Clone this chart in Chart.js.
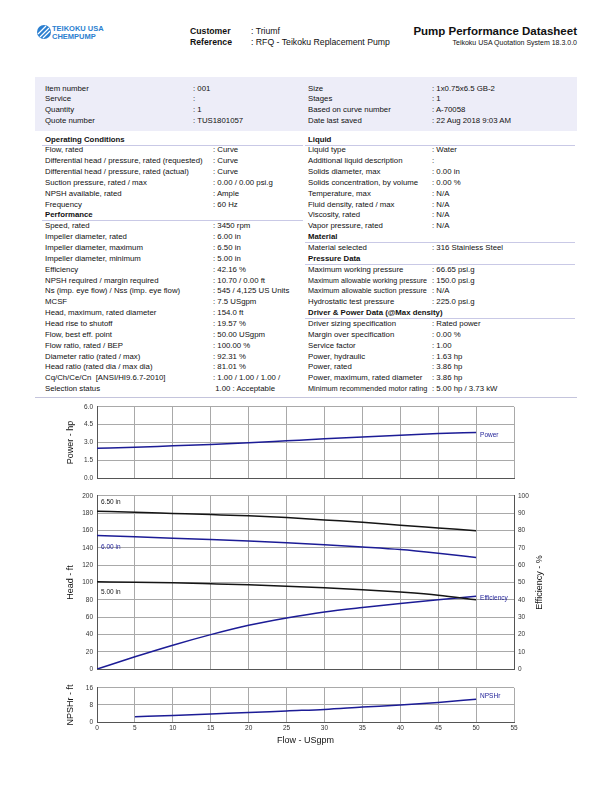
<!DOCTYPE html>
<html>
<head>
<meta charset="utf-8">
<script src="https://cdn.jsdelivr.net/npm/chart.js@4.4.0/dist/chart.umd.min.js"></script>
<style>
  body { margin: 0; background: #fff; font-family: "Liberation Sans", Arial, sans-serif; color: #111; }
  #page { position: relative; width: 612px; height: 792px; overflow: hidden; }
  .t { position: absolute; white-space: pre; font-size: 7.8px; line-height: 11px; height: 11px; transform-origin: left center; }
  .b { font-weight: bold; }
  .ln { position: absolute; height: 1px; background: #c9c9e6; }
  canvas { position: absolute; }
</style>
</head>
<body>
<div id="page">
  <svg style="position:absolute;left:36px;top:24px" width="16" height="16" viewBox="0 0 16 16">
    <circle cx="8" cy="8" r="7" fill="#2b7fd0"/>
    <path d="M2 10 L10 2 M4 13 L13 4 M7 14 L14 7" stroke="#fff" stroke-width="1.2"/>
  </svg>
  <div class="t b" style="left:52px;top:23px;font-size:7.5px;color:#2b7fd0">TEIKOKU USA</div>
  <div class="t b" style="left:52px;top:31px;font-size:7.5px;color:#2b7fd0">CHEMPUMP</div>
  <div class="t b" style="left:190px;top:26px;font-size:8.7px">Customer</div>
  <div class="t" style="left:251px;top:26px;font-size:8.7px">: Triumf</div>
  <div class="t b" style="left:190px;top:37px;font-size:8.7px">Reference</div>
  <div class="t" style="left:251px;top:37px;font-size:8.7px">: RFQ - Teikoku Replacement Pump</div>
  <div class="t b" style="right:35px;top:25px;font-size:11.5px;line-height:13px;height:13px">Pump Performance Datasheet</div>
  <div class="t" style="right:35px;top:37px;font-size:7px">Teikoku USA Quotation System 18.3.0.0</div>
  <div style="position:absolute;left:35px;top:77px;width:542px;height:54px;background:#ededf8"></div>
  <div id="tables"></div>
  <div class="ln" style="left:35px;top:397px;width:542px;background:#c4c4dc"></div>
  <canvas id="powerChart" width="510" height="87" style="left:50px;top:399px"></canvas>
  <canvas id="headChart" width="510" height="189" style="left:50px;top:488px"></canvas>
  <canvas id="npshChart" width="510" height="66" style="left:50px;top:680px"></canvas>
</div>
<script>
// header block
const topLeft = [
  ['Item number', ': 001'], ['Service', ':'], ['Quantity', ': 1'], ['Quote number', ': TUS1801057']
];
const topRight = [
  ['Size', ': 1x0.75x6.5 GB-2'], ['Stages', ': 1'], ['Based on curve number', ': A-70058'], ['Date last saved', ': 22 Aug 2018 9:03 AM']
];
// sections: null value = section header
const leftRows = [
  ['Operating Conditions', null],
  ['Flow, rated', ': Curve'],
  ['Differential head / pressure, rated (requested)', ': Curve'],
  ['Differential head / pressure, rated (actual)', ': Curve'],
  ['Suction pressure, rated / max', ': 0.00 / 0.00 psi.g'],
  ['NPSH available, rated', ': Ample'],
  ['Frequency', ': 60 Hz'],
  ['Performance', null],
  ['Speed, rated', ': 3450 rpm'],
  ['Impeller diameter, rated', ': 6.00 in'],
  ['Impeller diameter, maximum', ': 6.50 in'],
  ['Impeller diameter, minimum', ': 5.00 in'],
  ['Efficiency', ': 42.16 %'],
  ['NPSH required / margin required', ': 10.70 / 0.00 ft'],
  ['Ns (imp. eye flow) / Nss (imp. eye flow)', ': 545 / 4,125 US Units'],
  ['MCSF', ': 7.5 USgpm'],
  ['Head, maximum, rated diameter', ': 154.0 ft'],
  ['Head rise to shutoff', ': 19.57 %'],
  ['Flow, best eff. point', ': 50.00 USgpm'],
  ['Flow ratio, rated / BEP', ': 100.00 %'],
  ['Diameter ratio (rated / max)', ': 92.31 %'],
  ['Head ratio (rated dia / max dia)', ': 81.01 %'],
  ['Cq/Ch/Ce/Cn  [ANSI/HI9.6.7-2010]', ': 1.00 / 1.00 / 1.00 /'],
  ['Selection status', ' 1.00 : Acceptable']
];
const rightRows = [
  ['Liquid', null],
  ['Liquid type', ': Water'],
  ['Additional liquid description', ':'],
  ['Solids diameter, max', ': 0.00 in'],
  ['Solids concentration, by volume', ': 0.00 %'],
  ['Temperature, max', ': N/A'],
  ['Fluid density, rated / max', ': N/A'],
  ['Viscosity, rated', ': N/A'],
  ['Vapor pressure, rated', ': N/A'],
  ['Material', null],
  ['Material selected', ': 316 Stainless Steel'],
  ['Pressure Data', null],
  ['Maximum working pressure', ': 66.65 psi.g'],
  ['Maximum allowable working pressure', ': 150.0 psi.g'],
  ['Maximum allowable suction pressure', ': N/A'],
  ['Hydrostatic test pressure', ': 225.0 psi.g'],
  ['Driver & Power Data (@Max density)', null],
  ['Driver sizing specification', ': Rated power'],
  ['Margin over specification', ': 0.00 %'],
  ['Service factor', ': 1.00'],
  ['Power, hydraulic', ': 1.63 hp'],
  ['Power, rated', ': 3.86 hp'],
  ['Power, maximum, rated diameter', ': 3.86 hp'],
  ['Minimum recommended motor rating', ': 5.00 hp / 3.73 kW']
];

// curve data
const flow = [0, 5, 10, 15, 20, 25, 30, 35, 40, 45, 50];
const power = [2.52, 2.6, 2.72, 2.83, 2.97, 3.14, 3.31, 3.47, 3.62, 3.75, 3.84];
const head650 = [182.4, 181.0, 179.7, 178.4, 177.0, 175.0, 172.2, 169.6, 166.2, 163.0, 159.8];
const head600 = [154.4, 152.8, 151.2, 149.6, 148.0, 146.0, 143.7, 141.0, 138.0, 133.8, 129.0];
const head500 = [100.8, 100.3, 99.6, 98.5, 97.3, 95.8, 93.9, 91.6, 88.9, 85.4, 80.0];
const efficiency = [0, 7.1, 13.8, 19.9, 25.3, 29.5, 33.0, 35.6, 37.9, 40.0, 42.1];
const npshFlow = [5, 10, 15, 20, 25, 30, 35, 40, 45, 50];
const npshr = [2.5, 3.1, 3.8, 4.4, 5.2, 5.9, 7.0, 8.0, 9.2, 10.7];
const flowTicks = [0, 55, 5];

const rowH = 10.85;
const host = document.getElementById('tables');
function addText(txt, x, cy, bold, maxW) {
  const d = document.createElement('div');
  d.className = 't' + (bold ? ' b' : '');
  d.style.left = x + 'px';
  d.style.top = (cy - 5.5) + 'px';
  d.textContent = txt;
  host.appendChild(d);
  // squeeze labels that would run into the value column
  if (maxW && d.offsetWidth > maxW) d.style.transform = 'scaleX(' + (maxW / d.offsetWidth) + ')';
}
function addLine(x, y, w) {
  const d = document.createElement('div');
  d.className = 'ln';
  d.style.left = x + 'px'; d.style.top = y + 'px'; d.style.width = w + 'px';
  host.appendChild(d);
}
topLeft.forEach((r, i) => { addText(r[0], 45, 88 + i * rowH); addText(r[1], 193, 88 + i * rowH); });
topRight.forEach((r, i) => { addText(r[0], 308, 88 + i * rowH); addText(r[1], 432, 88 + i * rowH); });
function section(rows, x, vx, w) {
  rows.forEach((r, i) => {
    const cy = 139 + i * rowH;
    if (r[1] === null) {
      addText(r[0], x, cy, true);
      addLine(x - 3, cy + 5.5, w);
    } else {
      addText(r[0], x, cy, false, vx - x - 5);
      addText(r[1], vx, cy);
    }
  });
}
section(leftRows, 45, 213, 261);
section(rightRows, 308, 432, 270);

// charts
const BLUE = '#1c1c96', BLACK = '#151515', GRID = '#a9a9a9', TICK = '#333';
const tickFont = { family: 'Liberation Sans', size: 6.5 };
const pts = (xs, ys) => xs.map((x, i) => ({ x: x, y: ys[i] }));
const lineDs = (data, color, axis) => ({
  data: data, borderColor: color, borderWidth: 1.5, pointRadius: 0, fill: false,
  cubicInterpolationMode: 'monotone', yAxisID: axis || 'y'
});

function xScale(showLabels) {
  return {
    type: 'linear', min: flowTicks[0], max: flowTicks[1],
    grid: { color: GRID, drawTicks: false },
    border: { color: '#555' },
    ticks: { stepSize: flowTicks[2], display: showLabels, font: tickFont, color: TICK, padding: 2, maxRotation: 0 },
    title: { display: showLabels, text: 'Flow - USgpm', font: { family: 'Liberation Sans', size: 9 }, color: '#111', padding: 0 },
    afterFit: s => { s.height = showLabels ? 24 : 0; }
  };
}
function yScale(min, max, step, pos, fmt) {
  return {
    position: pos, min: min, max: max,
    grid: { color: GRID, drawTicks: false, drawOnChartArea: pos === 'left' },
    border: { color: '#555' },
    ticks: { stepSize: step, font: tickFont, color: TICK, padding: 4, callback: fmt || (v => v) },
    afterFit: s => { s.width = pos === 'left' ? 47 : 46; }
  };
}

// rotated axis titles + curve labels
const labelPlugin = {
  id: 'labels',
  afterDraw(chart) {
    const ctx = chart.ctx, a = chart.chartArea, o = chart.options.plugins.labels;
    ctx.save();
    ctx.font = '9px "Liberation Sans"';
    ctx.fillStyle = '#111';
    ctx.textAlign = 'center';
    ctx.textBaseline = 'middle';
    (o.titles || []).forEach(t => {
      ctx.save();
      ctx.translate(t.side === 'left' ? a.left - 26 : a.right + 26, (a.top + a.bottom) / 2);
      ctx.rotate(-Math.PI / 2);
      ctx.fillText(t.text, 0, 0);
      ctx.restore();
    });
    ctx.font = '6.5px "Liberation Sans"';
    ctx.textAlign = 'left';
    (o.tags || []).forEach(t => {
      const ys = chart.scales[t.axis || 'y'];
      ctx.fillStyle = t.color;
      ctx.fillText(t.text, chart.scales.x.getPixelForValue(t.x) + (t.dx || 0), ys.getPixelForValue(t.y));
    });
    ctx.restore();
  }
};

new Chart(document.getElementById('powerChart'), {
  type: 'line',
  data: { datasets: [lineDs(pts(flow, power), BLUE)] },
  options: {
    responsive: false, animation: false,
    layout: { padding: { top: 5, bottom: 3, right: 46, left: 0 } },
    plugins: { legend: { display: false }, tooltip: { enabled: false },
      labels: { titles: [{ side: 'left', text: 'Power - hp' }],
        tags: [{ text: 'Power', x: 50, dx: 4, y: 3.65, color: BLUE }] } },
    scales: { x: xScale(false), y: yScale(0, 6, 1.5, 'left', v => v.toFixed(1)) }
  },
  plugins: [labelPlugin]
});

new Chart(document.getElementById('headChart'), {
  type: 'line',
  data: { datasets: [
    lineDs(pts(flow, head650), BLACK),
    lineDs(pts(flow, head600), BLUE),
    lineDs(pts(flow, head500), BLACK),
    lineDs(pts(flow, efficiency), BLUE, 'y2')
  ] },
  options: {
    responsive: false, animation: false,
    layout: { padding: { top: 2, bottom: 6, right: 0, left: 0 } },
    plugins: { legend: { display: false }, tooltip: { enabled: false },
      labels: { titles: [{ side: 'left', text: 'Head - ft' }, { side: 'right', text: 'Efficiency - %' }],
        tags: [
          { text: '6.50 in', x: 0, dx: 4, y: 193, color: BLACK },
          { text: '6.00 in', x: 0, dx: 4, y: 141, color: BLUE },
          { text: '5.00 in', x: 0, dx: 4, y: 89, color: BLACK },
          { text: 'Efficiency', x: 50, dx: 4, y: 41, axis: 'y2', color: BLUE }
        ] } },
    scales: { x: xScale(false), y: yScale(0, 200, 20, 'left'), y2: yScale(0, 100, 10, 'right') }
  },
  plugins: [labelPlugin]
});

new Chart(document.getElementById('npshChart'), {
  type: 'line',
  data: { datasets: [lineDs(pts(npshFlow, npshr), BLUE)] },
  options: {
    responsive: false, animation: false,
    layout: { padding: { top: 1, bottom: 0, right: 46, left: 0 } },
    plugins: { legend: { display: false }, tooltip: { enabled: false },
      labels: { titles: [{ side: 'left', text: 'NPSHr - ft' }],
        tags: [{ text: 'NPSHr', x: 50, dx: 4, y: npshr[npshr.length - 1] + 1.5, color: BLUE }] } },
    scales: { x: xScale(true), y: yScale(0, 16, 8, 'left') }
  },
  plugins: [labelPlugin]
});
</script>
</body>
</html>
